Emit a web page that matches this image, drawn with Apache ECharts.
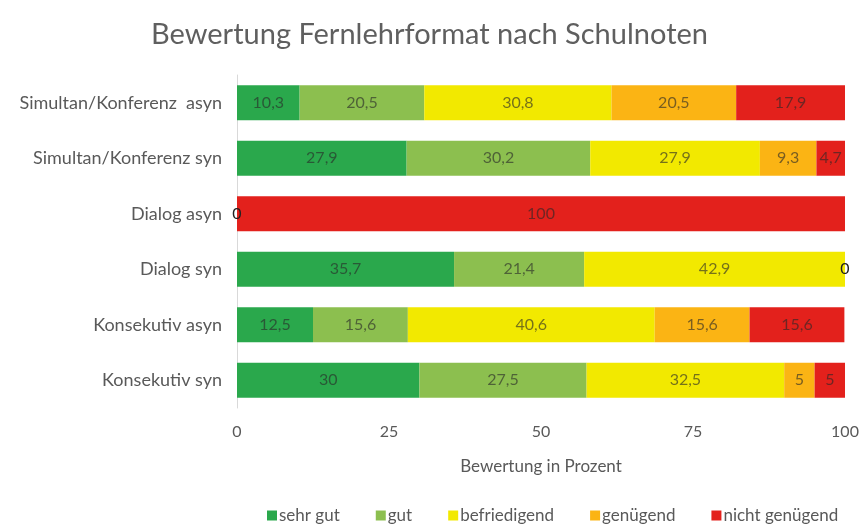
<!DOCTYPE html>
<html>
<head>
<meta charset="utf-8">
<script src="https://cdn.jsdelivr.net/npm/echarts@6/dist/echarts.min.js"></script>
<style>
  html, body { margin: 0; padding: 0; background: #fff; }
  #chart { width: 859px; height: 525px; }
</style>
</head>
<body>
<div id="chart"></div>
<script>
// Kategorien von oben nach unten
const categories = ['Simultan/Konferenz  asyn', 'Simultan/Konferenz syn', 'Dialog asyn', 'Dialog syn', 'Konsekutiv asyn', 'Konsekutiv syn']
const seriesNames = ['sehr gut', 'gut', 'befriedigend', 'genügend', 'nicht genügend']
const sehrGut = [10.3, 27.9, 0, 35.7, 12.5, 30]
const gut = [20.5, 30.2, null, 21.4, 15.6, 27.5]
const befriedigend = [30.8, 27.9, null, 42.9, 40.6, 32.5]
const genuegend = [20.5, 9.3, null, 0, 15.6, 5]
const nichtGenuegend = [17.9, 4.7, 100, null, 15.6, 5]
const xTicks = [0, 25, 50, 75, 100]

const colors = ['#2aa84c', '#8cbf4f', '#f2e900', '#fbb414', '#e3211c']
const font = 'Lato, "Open Sans", sans-serif'

const chart = echarts.init(document.getElementById('chart'))

const values = [sehrGut, gut, befriedigend, genuegend, nichtGenuegend]
const series = values.map((arr, i) => ({
  name: seriesNames[i],
  type: 'bar',
  stack: 'total',
  barWidth: '63%',
  itemStyle: { color: colors[i] },
  label: {
    show: true,
    position: 'inside',
    color: 'rgba(40,40,40,0.62)',
    fontFamily: font,
    fontSize: 16,
    formatter: p => (p.value == null ? '' : String(p.value).replace('.', ','))
  },
  data: arr.map(v => (v === 0 ? { value: 0, label: { color: '#222' } } : v))
}))

const option = {
  backgroundColor: '#fff',
  title: {
    text: 'Bewertung Fernlehrformat nach Schulnoten',
    left: 'center',
    top: 15,
    textStyle: { color: '#5f5f5f', fontFamily: font, fontSize: 29, fontWeight: 'normal' }
  },
  legend: {
    top: 502,
    left: 262,
    itemWidth: 10,
    itemHeight: 10,
    itemGap: 36,
    icon: 'rect',
    textStyle: { color: '#595959', fontFamily: font, fontSize: 17, padding: [0, 0, 0, -3] },
    data: seriesNames
  },
  grid: { left: 237, right: 14, top: 75, bottom: 117, outerBoundsMode: 'none' },
  xAxis: {
    type: 'value',
    min: 0,
    max: 100,
    interval: 25,
    name: 'Bewertung in Prozent',
    nameLocation: 'middle',
    nameGap: 50,
    nameTextStyle: { color: '#595959', fontFamily: font, fontSize: 17 },
    axisLine: { show: false },
    axisTick: { show: false },
    splitLine: { show: false },
    axisLabel: {
      color: '#595959', fontFamily: font, fontSize: 16, margin: 16,
      formatter: v => (xTicks.includes(v) ? String(v) : '')
    }
  },
  yAxis: {
    type: 'category',
    inverse: true,
    data: categories,
    axisLine: { show: true, lineStyle: { color: '#d9d9d9' } },
    axisTick: { show: false },
    axisLabel: { color: '#595959', fontFamily: font, fontSize: 18, margin: 15 }
  },
  series: series
}

chart.setOption(option)
</script>
</body>
</html>
